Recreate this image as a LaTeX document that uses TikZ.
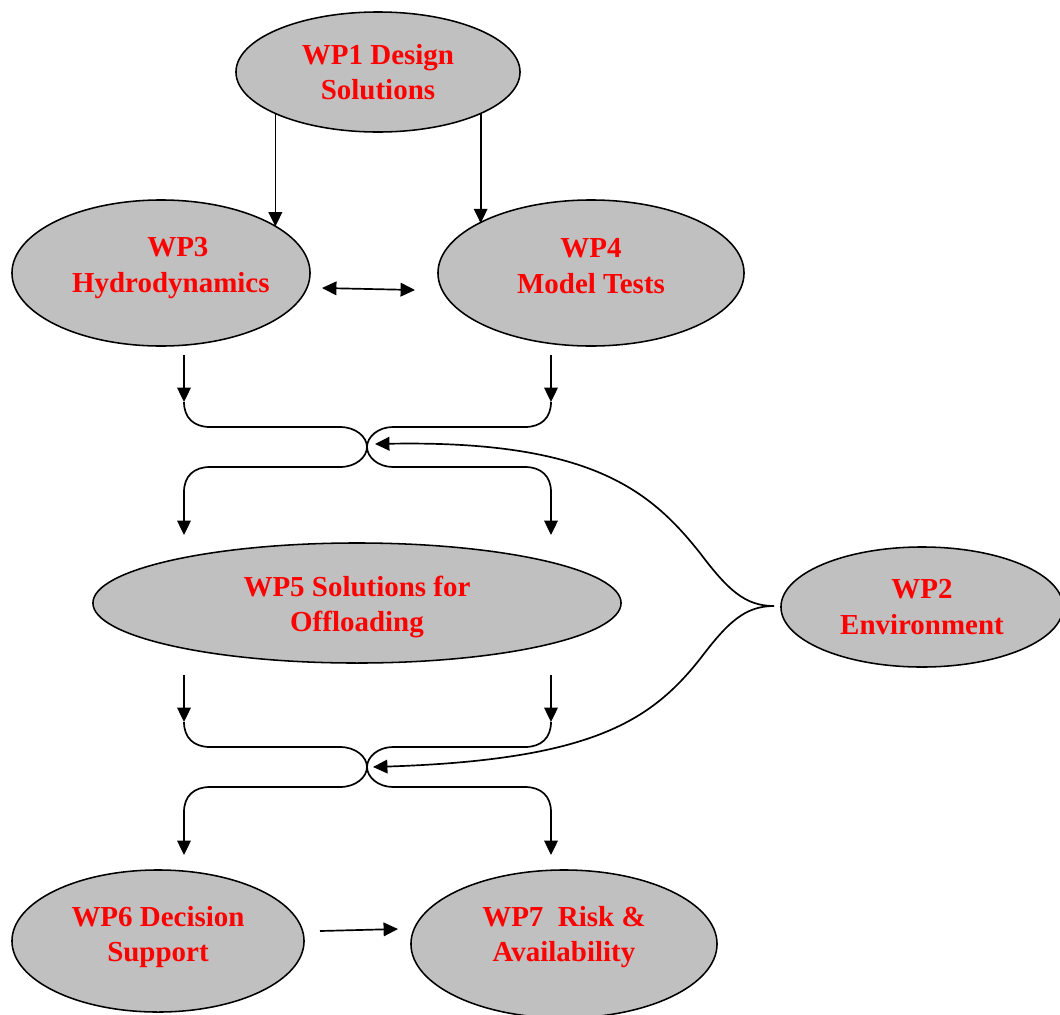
\documentclass[tikz,border=0pt]{standalone}
\usepackage{fontspec}
\setmainfont{Liberation Serif}
\usetikzlibrary{shapes.geometric,arrows.meta}
\definecolor{wpgray}{RGB}{192,192,192}
\newcommand{\wpfont}{\fontsize{20.6}{25}\selectfont\bfseries}
\newcommand{\lift}[1]{\rule[-#1]{0pt}{0pt}}

\begin{document}
\begin{tikzpicture}[
  x=0.025cm, y=-0.025cm,
  wp/.style={ellipse, draw, fill=wpgray, line width=1.1pt, inner sep=0pt, outer sep=0pt,
    align=center, text=red, font=\wpfont},
  arr/.style={-{Triangle[length=3.6mm,width=3.4mm]}, line width=1.2pt},
]
\useasboundingbox (0,0) rectangle (1060,1014);

% Work packages
\node[wp, minimum width=7.1cm, minimum height=3cm] (wp1) at (378,72) {WP1 Design\\Solutions};
\node[wp, inner xsep=-8pt, minimum width=7.45cm, minimum height=3.65cm] (wp3) at (161,273)
  {\hspace*{24pt}WP3\\\hspace*{14pt}Hydrodynamics\lift{11.6pt}};
\node[wp, minimum width=7.65cm, minimum height=3.65cm] (wp4) at (591,273) {WP4\\Model Tests\lift{10pt}};
\node[wp, minimum width=13.2cm, minimum height=3cm] (wp5) at (357,603)
  {\rule{0pt}{19.7pt}WP5 Solutions for\\Offloading};
\node[wp, minimum width=7.05cm, minimum height=3cm] (wp2) at (922,607) {WP2\\Environment};
\node[wp, minimum width=7.3cm, minimum height=3.55cm] (wp6) at (158,941) {WP6 Decision\\Support\lift{10.2pt}};
\node[wp, minimum width=7.65cm, minimum height=3.7cm] (wp7) at (564,944)
  {WP7\ \ Risk \&\\Availability\lift{14.5pt}};

% WP1 to WP3 and WP4
\draw[arr] (wp1.202.5) -- (wp1.202.5 |- wp3.22);
\draw[arr] (wp1.-22.7) -- (wp1.-22.7 |- wp4.156);

% WP3 <-> WP4
\coordinate (h3) at (322,288);
\coordinate (h4) at (415,290);
\draw[arr, {Triangle[length=3.6mm,width=3.4mm]}-{Triangle[length=3.6mm,width=3.4mm]}] (h3) -- (h4);

% Upper junction
\coordinate (s3) at (184,355);
\coordinate (s4) at (551,355);
\coordinate (t1l) at (184,402);
\coordinate (t1r) at (551,402);
\coordinate (b1l) at (184,535);
\coordinate (b1r) at (551,535);
\draw[arr] (s3) -- (t1l);
\draw[arr] (s4) -- (t1r);
\draw[arr] (t1l) .. controls (184,418) and (194,427) .. (210,427) -- (340,427)
  .. controls (356,427) and (367,437) .. (367,447)
  .. controls (367,457) and (356,467) .. (340,467) -- (210,467)
  .. controls (194,467) and (184,476) .. (184,492) -- (b1l);
\draw[arr] (t1r) .. controls (551,418) and (541,427) .. (525,427) -- (393,427)
  .. controls (378,427) and (367,437) .. (367,447)
  .. controls (367,457) and (378,467) .. (393,467) -- (525,467)
  .. controls (541,467) and (551,476) .. (551,492) -- (b1r);

% Lower junction
\coordinate (s5l) at (184,675);
\coordinate (s5r) at (551,675);
\coordinate (t2l) at (184,722);
\coordinate (t2r) at (551,722);
\coordinate (b2l) at (184,855);
\coordinate (b2r) at (551,855);
\draw[arr] (s5l) -- (t2l);
\draw[arr] (s5r) -- (t2r);
\draw[arr] (t2l) .. controls (184,738) and (194,747) .. (210,747) -- (340,747)
  .. controls (356,747) and (367,757) .. (367,767)
  .. controls (367,777) and (356,787) .. (340,787) -- (210,787)
  .. controls (194,787) and (184,796) .. (184,812) -- (b2l);
\draw[arr] (t2r) .. controls (551,738) and (541,747) .. (525,747) -- (393,747)
  .. controls (378,747) and (367,757) .. (367,767)
  .. controls (367,777) and (378,787) .. (393,787) -- (525,787)
  .. controls (541,787) and (551,796) .. (551,812) -- (b2r);

% WP2 into both junctions
\coordinate (w2) at (774,606);
\coordinate (j1) at (375,444);
\coordinate (j2) at (373,767);
\draw[arr] (w2) .. controls (745,606) and (728,590) .. (700,553)
  .. controls (650,490) and (590,440) .. (j1);
\draw[arr] (w2) .. controls (745,606) and (728,622) .. (700,659)
  .. controls (650,722) and (590,760) .. (j2);

% WP6 to WP7
\coordinate (h6) at (320,931);
\coordinate (h7) at (398,929);
\draw[arr] (h6) -- (h7);
\end{tikzpicture}
\end{document}
